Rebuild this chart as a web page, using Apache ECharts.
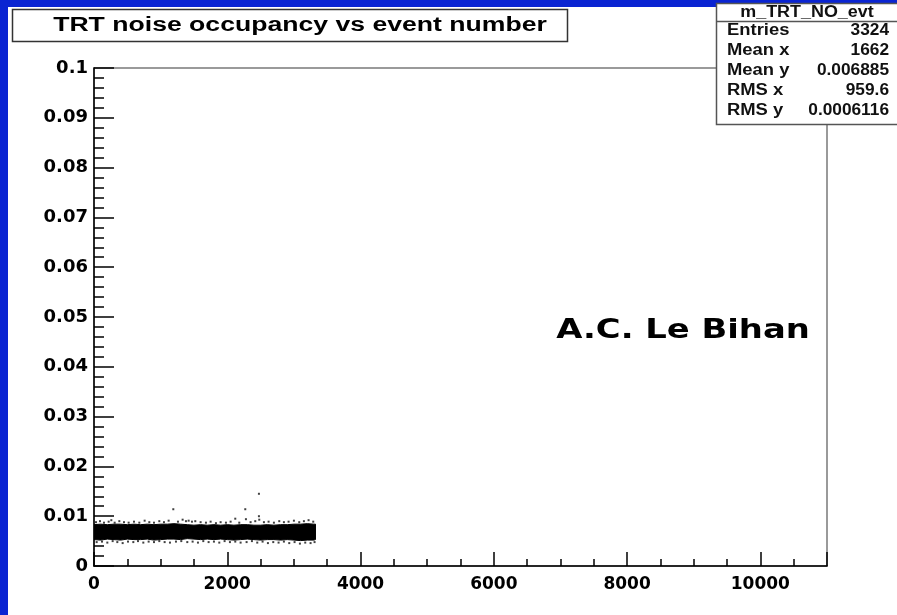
<!DOCTYPE html>
<html>
<head>
<meta charset="utf-8">
<script src="https://cdn.jsdelivr.net/npm/echarts@6/dist/echarts.min.js"></script>
<style>
html,body{margin:0;padding:0;background:#fff;}
#chart{width:897px;height:615px;}
</style>
</head>
<body>
<div id="chart"></div>
<script>
// ---- data ----
var titleText = 'TRT noise occupancy vs event number';
var statsName = 'm_TRT_NO_evt';
var statsLabels = ['Entries', 'Mean x', 'Mean y', 'RMS x', 'RMS y'];
var statsValues = ['3324', '1662', '0.006885', '959.6', '0.0006116'];
var signature = 'A.C. Le Bihan';

// dense band of points: event number, lower and upper edge of the dark band
var bandX = [0,100,200,300,400,500,600,700,800,900,1000,1100,1200,1300,1400,1500,1600,1700,1800,1900,2000,2100,2200,2300,2400,2500,2600,2700,2800,2900,3000,3100,3200,3300,3324];
var bandLow = [0.0053,0.0052,0.0054,0.0053,0.0052,0.0054,0.0053,0.0053,0.0054,0.0052,0.0053,0.0054,0.0054,0.0053,0.0055,0.0054,0.0053,0.0054,0.0053,0.0054,0.0053,0.0052,0.0053,0.0054,0.0053,0.0052,0.0053,0.0053,0.0052,0.0053,0.0052,0.0051,0.0052,0.0052,0.0053];
var bandHigh = [0.0083,0.0084,0.0083,0.0084,0.0084,0.0083,0.0084,0.0083,0.0084,0.0083,0.0084,0.0084,0.0085,0.0084,0.0083,0.0082,0.0083,0.0082,0.0083,0.0082,0.0083,0.0082,0.0083,0.0083,0.0082,0.0082,0.0083,0.0082,0.0083,0.0083,0.0084,0.0084,0.0085,0.0084,0.0084];

// sparse points around the band and outliers [event, occupancy]
var sparsePoints = [
 [30,0.0088],[90,0.0090],[150,0.0087],[220,0.0089],[260,0.0092],[310,0.0087],[380,0.0090],[450,0.0088],[520,0.0087],[600,0.0089],
 [680,0.0087],[760,0.0091],[830,0.0088],[900,0.0087],[980,0.0090],[1050,0.0088],[1120,0.0091],[1190,0.0114],[1260,0.0089],[1330,0.0093],
 [1380,0.0090],[1420,0.0091],[1470,0.0089],[1520,0.0090],[1600,0.0088],[1680,0.0087],[1750,0.0089],[1830,0.0086],[1900,0.0088],[1980,0.0087],
 [2050,0.0089],[2120,0.0095],[2180,0.0087],[2270,0.0114],[2280,0.0094],[2350,0.0088],[2420,0.0090],[2475,0.0145],[2475,0.0100],[2480,0.0093],
 [2550,0.0088],[2620,0.0089],[2700,0.0087],[2780,0.0090],[2850,0.0088],[2920,0.0089],[3000,0.0091],[3080,0.0088],[3150,0.0090],[3220,0.0092],[3290,0.0089],
 [40,0.0048],[120,0.0049],[200,0.0047],[280,0.0050],[350,0.0048],[430,0.0046],[510,0.0049],[590,0.0048],[660,0.0050],[740,0.0047],
 [820,0.0049],[900,0.0048],[980,0.0050],[1060,0.0048],[1140,0.0047],[1230,0.0049],[1310,0.0050],[1400,0.0048],[1480,0.0049],[1560,0.0047],
 [1640,0.0050],[1720,0.0048],[1800,0.0049],[1880,0.0047],[1960,0.0050],[2040,0.0048],[2120,0.0049],[2200,0.0047],[2290,0.0048],[2370,0.0050],
 [2450,0.0047],[2530,0.0049],[2610,0.0046],[2690,0.0048],[2770,0.0047],[2850,0.0049],[2930,0.0046],[3010,0.0048],[3090,0.0045],[3170,0.0047],[3250,0.0046],[3310,0.0048]
];

// axis settings
var xMin = 0, xMax = 11000, xStep = 2000;
var yMin = 0, yMax = 0.1, yStep = 0.01;

var chart = echarts.init(document.getElementById('chart'), null, {renderer: 'canvas'});

function renderBand(params, api) {
  if (params.dataIndex !== 0) return null;
  var pts = [];
  for (var i = 0; i < bandX.length; i++) pts.push(api.coord([bandX[i], bandHigh[i]]));
  for (var j = bandX.length - 1; j >= 0; j--) pts.push(api.coord([bandX[j], bandLow[j]]));
  return {type: 'polygon', shape: {points: pts}, style: {fill: '#000', stroke: '#000', lineWidth: 1}};
}

var statsGraphics = [];
var rowY0 = 31, rowStep = 19.9;
statsLabels.forEach(function (lab, i) {
  statsGraphics.push({
    type: 'text', x: 727, y: rowY0 + i * rowStep, scaleX: 1.15, z: 101,
    style: {text: lab, font: 'bold 16px "Liberation Sans"', fill: '#111', textAlign: 'left', textVerticalAlign: 'middle'}
  });
  statsGraphics.push({
    type: 'text', x: 889, y: rowY0 + i * rowStep, scaleX: 1.08, z: 101,
    style: {text: statsValues[i], font: 'bold 16px "Liberation Sans"', fill: '#111', textAlign: 'right', textVerticalAlign: 'middle'}
  });
});

var option = {
  backgroundColor: '#ffffff',
  animation: false,
  grid: {
    left: 94, right: 70, top: 68, bottom: 49,
    show: true, borderColor: '#7a7a7a', borderWidth: 1.5, backgroundColor: '#ffffff'
  },
  xAxis: {
    type: 'value', min: xMin, max: xMax, interval: xStep,
    axisLine: {show: true, onZero: false, lineStyle: {color: '#000', width: 1.5}},
    axisTick: {show: true, inside: true, length: 14, lineStyle: {color: '#000', width: 1.5}},
    minorTick: {show: true, splitNumber: 4, length: 7, lineStyle: {color: '#000', width: 1.5}},
    splitLine: {show: false},
    axisLabel: {
      margin: 10, showMaxLabel: false,
      fontFamily: 'DejaVu Sans', fontWeight: 'bold', fontSize: 17, color: '#000',
      formatter: function (v) { return String(v); }
    }
  },
  yAxis: {
    type: 'value', min: yMin, max: yMax, interval: yStep,
    axisLine: {show: true, onZero: false, lineStyle: {color: '#000', width: 1.5}},
    axisTick: {show: true, inside: true, length: 20, lineStyle: {color: '#000', width: 1.5}},
    minorTick: {show: true, splitNumber: 5, length: 10, lineStyle: {color: '#000', width: 1.5}},
    splitLine: {show: false},
    axisLabel: {
      margin: 6,
      fontFamily: 'DejaVu Sans', fontWeight: 'bold', fontSize: 18, color: '#000',
      formatter: function (v) { return v === 0 ? '0' : String(+v.toFixed(3)); }
    }
  },
  series: [
    {
      type: 'custom', data: [[0]], renderItem: renderBand, silent: true, clip: true
    },
    {
      type: 'scatter', data: sparsePoints, symbol: 'rect', symbolSize: 2,
      itemStyle: {color: '#111'}, silent: true
    }
  ],
  graphic: [
    {type: 'rect', shape: {x: 0, y: 0, width: 897, height: 7}, style: {fill: '#0a24d2'}, z: 100},
    {type: 'rect', shape: {x: 0, y: 0, width: 8, height: 615}, style: {fill: '#0a24d2'}, z: 100},
    // title box
    {type: 'rect', shape: {x: 12.5, y: 9.5, width: 555, height: 32}, style: {fill: '#fff', stroke: '#333', lineWidth: 1.5}, z: 100},
    {type: 'text', x: 300, y: 25, scaleX: 1.33, z: 101,
      style: {text: titleText, font: 'bold 20px "Liberation Sans"', fill: '#000', textAlign: 'center', textVerticalAlign: 'middle'}},
    // stats box
    {type: 'rect', shape: {x: 716.5, y: 3.5, width: 185, height: 121}, style: {fill: '#fff', stroke: '#555', lineWidth: 1.5}, z: 100},
    {type: 'line', shape: {x1: 716.5, y1: 21.5, x2: 897, y2: 21.5}, style: {stroke: '#555', lineWidth: 1.5}, z: 100},
    {type: 'text', x: 807, y: 12.5, scaleX: 1.12, z: 101,
      style: {text: statsName, font: 'bold 16px "Liberation Sans"', fill: '#111', textAlign: 'center', textVerticalAlign: 'middle'}},
    // signature
    {type: 'text', x: 683, y: 331, scaleX: 1.3, z: 101,
      style: {text: signature, font: 'bold 26px "DejaVu Sans"', fill: '#000', textAlign: 'center', textVerticalAlign: 'middle'}}
  ].concat(statsGraphics)
};
chart.setOption(option);
</script>
</body>
</html>
